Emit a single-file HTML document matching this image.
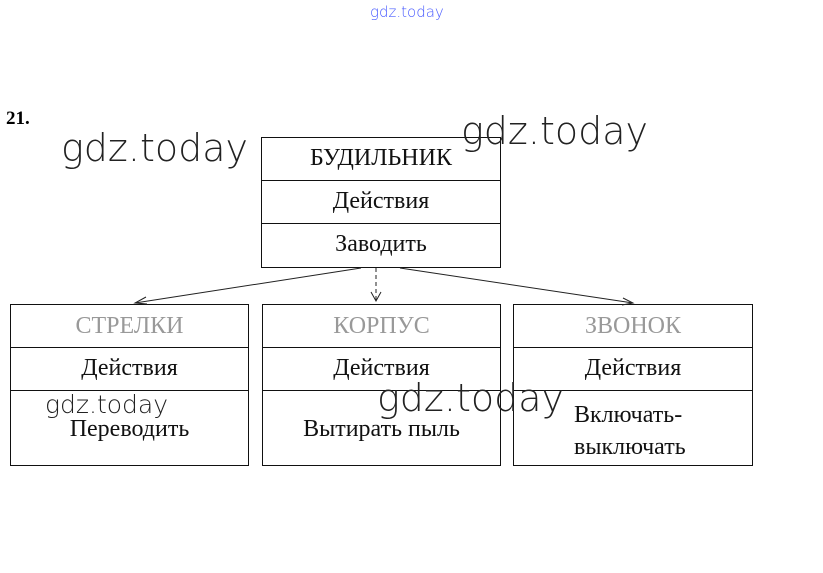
<!DOCTYPE html>
<html><head><meta charset="utf-8"><style>
body{margin:0;width:823px;height:573px;background:#fff;position:relative;overflow:hidden;font-family:"Liberation Serif",serif}
.b{position:absolute;border:1px solid #111;box-sizing:border-box}
.r{position:absolute;left:0;right:0;text-align:center;font-size:24px;color:#111}
.h{position:absolute;left:0;right:0;border-top:1px solid #111}
.w{position:absolute;font-family:"DejaVu Sans","Liberation Sans",sans-serif;color:#222;font-weight:200;letter-spacing:0px}
</style></head><body>
<div class="w" style="left:370px;top:3px;font-size:15px;color:#4a5cff">gdz.today</div>
<div style="position:absolute;left:6px;top:108px;font-weight:bold;font-size:19px">21.</div>

<div class="b" style="left:261px;top:137px;width:240px;height:131px">
<div class="r" style="top:7px">БУДИЛЬНИК</div><div class="h" style="top:42px"></div>
<div class="r" style="top:50px">Действия</div><div class="h" style="top:85px"></div>
<div class="r" style="top:93px">Заводить</div></div>

<div class="b" style="left:10px;top:304px;width:239px;height:162px">
<div class="r" style="top:8px;color:#999">СТРЕЛКИ</div><div class="h" style="top:42px"></div>
<div class="r" style="top:50px">Действия</div><div class="h" style="top:85px"></div>
<div class="r" style="top:111px">Переводить</div></div>

<div class="b" style="left:262px;top:304px;width:239px;height:162px">
<div class="r" style="top:8px;color:#999">КОРПУС</div><div class="h" style="top:42px"></div>
<div class="r" style="top:50px">Действия</div><div class="h" style="top:85px"></div>
<div class="r" style="top:111px">Вытирать пыль</div></div>

<div class="b" style="left:513px;top:304px;width:240px;height:162px">
<div class="r" style="top:8px;color:#999">ЗВОНОК</div><div class="h" style="top:42px"></div>
<div class="r" style="top:50px">Действия</div><div class="h" style="top:85px"></div>
<div class="r" style="top:94px;line-height:32px;text-align:left;left:60px">Включать-<br>выключать</div></div>

<svg style="position:absolute;left:0;top:0" width="823" height="573">
<g stroke="#222" stroke-width="1" fill="none">
<line x1="361" y1="268" x2="135" y2="303"/>
<polyline points="146,297 135,303 147,304"/>
<line x1="376" y1="268" x2="376" y2="301" stroke-dasharray="4,3"/>
<polyline points="371,292 376,301 381,292"/>
<line x1="400" y1="268" x2="633" y2="303"/>
<polyline points="623,298 633,303 622,305"/>
</g></svg>

<div class="w" style="left:61px;top:126px;font-size:38px">gdz.today</div>
<div class="w" style="left:461px;top:109px;font-size:38px">gdz.today</div>
<div class="w" style="left:377px;top:376px;font-size:38px">gdz.today</div>
<div class="w" style="left:45px;top:390px;font-size:25px">gdz.today</div>
</body></html>
